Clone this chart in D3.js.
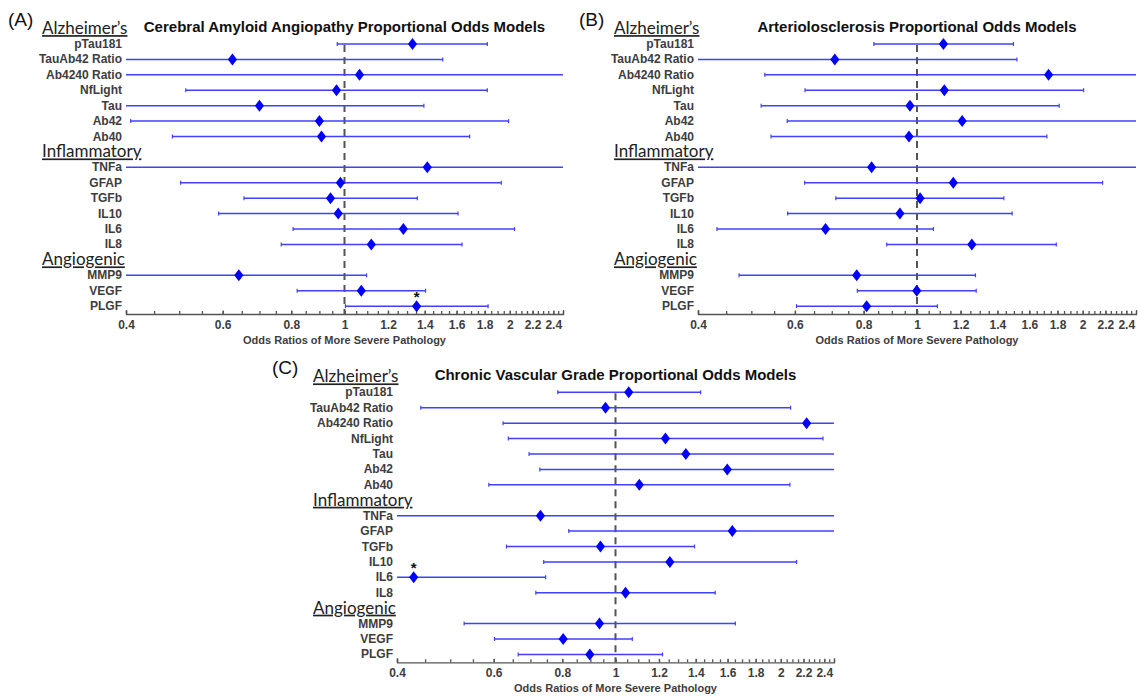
<!doctype html>
<html>
<head>
<meta charset="utf-8">
<script src="https://cdn.jsdelivr.net/npm/d3@7/dist/d3.min.js"></script>
<style>
body { margin: 0; background: #fff; }
text { font-family: "Liberation Sans", Arial, sans-serif; }
</style>
</head>
<body>
<svg width="1141" height="696"></svg>
<script>
// categories
var groups = ["Alzheimer\u2019s", "Inflammatory", "Angiogenic"];
var markers = ["pTau181", "TauAb42 Ratio", "Ab4240 Ratio", "NfLight", "Tau", "Ab42", "Ab40",
               "TNFa", "GFAP", "TGFb", "IL10", "IL6", "IL8",
               "MMP9", "VEGF", "PLGF"];
var markerGroup = ["Alzheimer\u2019s", "Alzheimer\u2019s", "Alzheimer\u2019s", "Alzheimer\u2019s", "Alzheimer\u2019s", "Alzheimer\u2019s", "Alzheimer\u2019s",
                   "Inflammatory", "Inflammatory", "Inflammatory", "Inflammatory", "Inflammatory", "Inflammatory",
                   "Angiogenic", "Angiogenic", "Angiogenic"];

// (A) cerebral amyloid angiopathy
var orA = [1.33, 0.625, 1.065, 0.967, 0.70, 0.90, 0.908, 1.415, 0.983, 0.943, 0.974, 1.28, 1.119, 0.642, 1.073, 1.353];
var loA = [0.97, 0.40, 0.40, 0.514, 0.40, 0.408, 0.486, 0.40, 0.503, 0.656, 0.59, 0.806, 0.767, 0.40, 0.82, 1.004];
var hiA = [1.82, 1.51, 2.50, 1.82, 1.395, 1.99, 1.69, 2.50, 1.93, 1.357, 1.61, 2.04, 1.637, 1.097, 1.405, 1.826];
var starA = ["PLGF"];

// (B) arteriolosclerosis
var orB = [1.117, 0.709, 1.734, 1.121, 0.971, 1.208, 0.967, 0.827, 1.164, 1.013, 0.931, 0.682, 1.258, 0.777, 0.999, 0.81];
var loB = [0.835, 0.40, 0.529, 0.626, 0.521, 0.581, 0.543, 0.40, 0.625, 0.712, 0.582, 0.433, 0.881, 0.475, 0.779, 0.604];
var hiB = [1.497, 1.519, 2.50, 2.008, 1.813, 2.50, 1.722, 2.50, 2.174, 1.438, 1.489, 1.071, 1.791, 1.277, 1.281, 1.089];
var starB = [];

// (C) chronic vascular grade
var orC = [1.057, 0.959, 2.229, 1.233, 1.343, 1.598, 1.105, 0.730, 1.632, 0.939, 1.256, 0.429, 1.043, 0.935, 0.803, 0.898];
var loC = [0.785, 0.442, 0.624, 0.638, 0.696, 0.728, 0.588, 0.40, 0.822, 0.633, 0.740, 0.40, 0.716, 0.53, 0.602, 0.665];
var hiC = [1.429, 2.084, 2.50, 2.387, 2.50, 2.50, 2.078, 2.50, 2.50, 1.393, 2.137, 0.746, 1.519, 1.653, 1.073, 1.218];
var starC = ["IL6"];

var titles = ["Cerebral Amyloid Angiopathy Proportional Odds Models",
              "Arteriolosclerosis Proportional Odds Models",
              "Chronic Vascular Grade Proportional Odds Models"];
var letters = ["(A)", "(B)", "(C)"];
var tickLabels = [0.4, 0.6, 0.8, 1, 1.2, 1.4, 1.6, 1.8, 2, 2.2, 2.4];
var xTitle = "Odds Ratios of More Severe Pathology";

// rows: each group header followed by its markers
var rows = [];
groups.forEach(g => {
  rows.push({key: "h_" + g, header: g});
  markers.forEach((m, i) => { if (markerGroup[i] === g) rows.push({key: m, idx: i}); });
});

var panels = [
  {letter: letters[0], lx: 8,   x0: 126, x1: 563,  top: 44,    title: titles[0], or: orA, lo: loA, hi: hiA, star: starA},
  {letter: letters[1], lx: 579, x0: 698, x1: 1136, top: 44,    title: titles[1], or: orB, lo: loB, hi: hiB, star: starB},
  {letter: letters[2], lx: 272, x0: 397, x1: 834,  top: 392.3, title: titles[2], or: orC, lo: loC, hi: hiC, star: starC}
];

var svg = d3.select("svg");
var step = 15.42;
var lineColor = "#4040ff";
var grey = "#3d3d3d";

panels.forEach(p => {
  var g = svg.append("g");
  var x = d3.scaleLog().domain([0.4, 2.5]).range([p.x0, p.x1]).clamp(true);
  var y = d3.scalePoint().domain(rows.map(r => r.key)).range([p.top - step, p.top + 17 * step]);
  var axisY = p.top + 270;

  // panel letter and title
  g.append("text").attr("x", p.lx).attr("y", p.top - 18)
    .style("font-size", "19px").style("fill", "#111").text(p.letter);
  g.append("text").attr("x", (p.x0 + p.x1) / 2).attr("y", p.top - 12)
    .attr("text-anchor", "middle").style("font-size", "15px").style("font-weight", "bold")
    .style("fill", "#111").text(p.title);

  // reference line at OR = 1
  g.append("line")
    .attr("x1", x(1)).attr("x2", x(1))
    .attr("y1", p.top + 1).attr("y2", axisY)
    .style("stroke", "#555").style("stroke-width", 2).style("stroke-dasharray", "7,5");

  // axis: minor ticks every 0.05, labelled every 0.2
  var minor = d3.range(0.4, 2.5001, 0.05);
  g.append("g").attr("transform", "translate(0," + axisY + ")")
    .call(d3.axisBottom(x).tickValues(minor).tickFormat("").tickSizeInner(-3).tickSizeOuter(-4))
    .call(a => a.selectAll("line, path").style("stroke", "#555").style("stroke-width", 1.3));
  g.append("g").attr("transform", "translate(0," + axisY + ")")
    .call(d3.axisBottom(x).tickValues(tickLabels).tickFormat(d3.format("")).tickSizeInner(-3.5).tickSizeOuter(0).tickPadding(6))
    .call(a => a.select(".domain").remove())
    .call(a => a.selectAll("line").style("stroke", "#555").style("stroke-width", 1.3))
    .call(a => a.selectAll("text").style("font-size", "12px").style("font-weight", "bold")
      .style("fill", grey).style("font-family", "'Liberation Sans', Arial, sans-serif"));
  g.append("text").attr("x", (p.x0 + p.x1) / 2).attr("y", axisY + 30)
    .attr("text-anchor", "middle").style("font-size", "11px").style("font-weight", "bold")
    .style("fill", grey).text(xTitle);

  // row labels and group headers
  rows.forEach(r => {
    if (r.header) {
      g.append("text").attr("x", p.x0 - 84).attr("y", y(r.key) + 5.5)
        .style("font-family", "Lato, 'Open Sans', sans-serif").style("font-size", "17px")
        .style("fill", "#222").style("text-decoration", "underline").text(r.header);
    } else {
      g.append("text").attr("x", p.x0 - 4).attr("y", y(r.key) + 4)
        .attr("text-anchor", "end").style("font-size", "12px").style("font-weight", "bold")
        .style("fill", grey).text(r.key);
    }
  });

  var data = markers.map((m, i) => ({m: m, or: p.or[i], lo: p.lo[i], hi: p.hi[i]}));

  // confidence intervals
  g.selectAll("line.ci").data(data).enter().append("line").attr("class", "ci")
    .attr("x1", d => x(d.lo)).attr("x2", d => x(d.hi))
    .attr("y1", d => y(d.m)).attr("y2", d => y(d.m))
    .style("stroke", lineColor).style("stroke-width", 1.5);
  g.selectAll("line.capl").data(data.filter(d => d.lo > 0.4)).enter().append("line").attr("class", "capl")
    .attr("x1", d => x(d.lo)).attr("x2", d => x(d.lo))
    .attr("y1", d => y(d.m) - 2).attr("y2", d => y(d.m) + 2)
    .style("stroke", lineColor).style("stroke-width", 1.2);
  g.selectAll("line.caph").data(data.filter(d => d.hi < 2.5)).enter().append("line").attr("class", "caph")
    .attr("x1", d => x(d.hi)).attr("x2", d => x(d.hi))
    .attr("y1", d => y(d.m) - 2).attr("y2", d => y(d.m) + 2)
    .style("stroke", lineColor).style("stroke-width", 1.2);

  // point estimates
  g.selectAll("path.or").data(data).enter().append("path").attr("class", "or")
    .attr("d", "M0,-6L4.6,0L0,6L-4.6,0Z")
    .attr("transform", d => "translate(" + x(d.or) + "," + y(d.m) + ")")
    .style("fill", "#0000ff");

  // significance markers
  g.selectAll("text.star").data(data.filter(d => p.star.indexOf(d.m) >= 0)).enter().append("text")
    .attr("class", "star").attr("x", d => x(d.or)).attr("y", d => y(d.m) - 4)
    .attr("text-anchor", "middle").style("font-size", "15px").style("font-weight", "bold")
    .style("fill", "#111").text("*");
});
</script>
</body>
</html>
